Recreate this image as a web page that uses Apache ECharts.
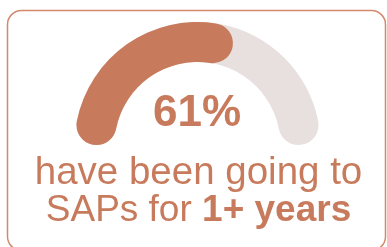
<!DOCTYPE html>
<html>
<head>
<meta charset="utf-8">
<script src="https://cdn.jsdelivr.net/npm/echarts@6/dist/echarts.min.js"></script>
<style>
  html, body { margin: 0; padding: 0; background: #fff; }
  #main { width: 387px; height: 247px; }
</style>
</head>
<body>
<div id="main"></div>
<script>
// share of respondents (percent)
var shareLabels = ['1+ years', 'less'];
var shareValues = [61, 39];
var caption1 = 'have been going to';
var caption2 = 'SAPs for {b|1+ years}';

var orange = '#c87b5c';
var track = '#e8e0df';
var font = '"Liberation Sans", Arial, sans-serif';

var myChart = echarts.init(document.getElementById('main'));
var total = shareValues[0] + shareValues[1];

option = {
	backgroundColor: '#fff',
	animation: false,
	graphic: [
		{
			type: 'rect',
			shape: { x: 7.5, y: 10.5, width: 378, height: 240, r: 14 },
			style: { fill: 'none', stroke: '#d38a6c', lineWidth: 1.5 },
			silent: true
		},
		{
			type: 'text',
			x: 197, y: 114,
			style: {
				text: shareValues[0] + '%',
				font: 'bold 44px ' + font,
				fill: orange,
				align: 'center',
				verticalAlign: 'middle'
			}
		},
		{
			type: 'text',
			x: 198.5, y: 173.5,
			style: {
				text: caption1,
				font: '38.5px ' + font,
				fill: orange,
				align: 'center',
				verticalAlign: 'middle'
			}
		},
		{
			type: 'text',
			x: 198.5, y: 211,
			style: {
				text: caption2,
				font: '37px ' + font,
				fill: orange,
				align: 'center',
				verticalAlign: 'middle',
				rich: {
					b: { font: 'bold 37px ' + font, fill: orange }
				}
			}
		}
	],
	series: [
		{
			// grey track, top half only
			type: 'pie',
			silent: true,
			center: [197.5, 145],
			radius: [83, 123],
			startAngle: 180,
			label: { show: false },
			labelLine: { show: false },
			itemStyle: { borderRadius: 20 },
			data: [
				{ value: total, itemStyle: { color: track } },
				{ value: total, itemStyle: { color: 'transparent' } }
			]
		},
		{
			type: 'pie',
			silent: true,
			center: [197.5, 145],
			radius: [83, 123],
			startAngle: 180,
			label: { show: false },
			labelLine: { show: false },
			itemStyle: { borderRadius: 20 },
			data: [
				{ name: shareLabels[0], value: shareValues[0], itemStyle: { color: orange } },
				{ name: shareLabels[1], value: shareValues[1] + total, itemStyle: { color: 'transparent' } }
			]
		}
	]
};

myChart.setOption(option);
</script>
</body>
</html>
